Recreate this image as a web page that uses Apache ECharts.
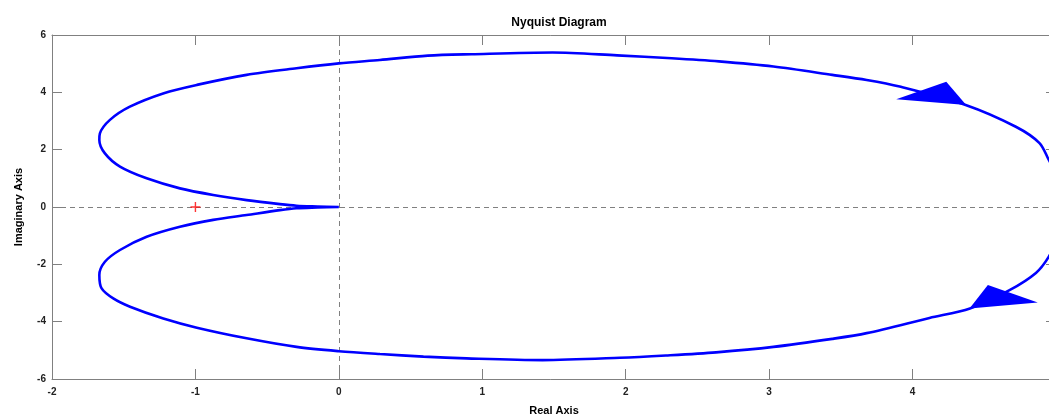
<!DOCTYPE html>
<html>
<head>
<meta charset="utf-8">
<script src="https://cdn.jsdelivr.net/npm/echarts@6/dist/echarts.min.js"></script>
<style>
	html, body { margin: 0; padding: 0; background: #fff; }
	#chart { width: 1049px; height: 414px; }
</style>
</head>
<body>
<div id="chart"></div>
<script>
// 坐标轴刻度
var xTicks = [-2, -1, 0, 1, 2, 3, 4, 5];
var yTicks = [-6, -4, -2, 0, 2, 4, 6];

// Nyquist 曲线 (实部 / 虚部)
var curveRe = [0, -0.15, -0.295, -0.411, -0.643, -0.876, -1.108, -1.34, -1.526, -1.631, -1.670, -1.666, -1.596, -1.457, -1.22, -0.99, -0.643, -0.295, 0, 0.286, 0.62, 0.925, 1.49, 1.94, 2.32, 2.65, 3.03, 3.44, 3.68, 3.91, 4.37, 4.72, 4.885, 4.95, 5.03, 5.06, 5.03, 4.95, 4.86, 4.676, 4.40, 4.118, 3.68, 3.44, 3.03, 2.63, 2.28, 1.96, 1.42, 0.89, 0.59, 0.286, 0, -0.295, -0.643, -0.99, -1.224, -1.456, -1.573, -1.654, -1.670, -1.631, -1.526, -1.34, -1.108, -0.876, -0.643, -0.411, -0.295, -0.15, 0];
var curveIm = [0, 0.02, 0.045, 0.10, 0.24, 0.42, 0.65, 1.0, 1.41, 1.87, 2.34, 2.57, 3.04, 3.50, 3.97, 4.26, 4.61, 4.84, 5.01, 5.13, 5.28, 5.33, 5.39, 5.29, 5.19, 5.08, 4.90, 4.61, 4.43, 4.20, 3.56, 2.80, 2.23, 1.64, 0.9, 0, -0.9, -1.73, -2.30, -2.90, -3.54, -3.87, -4.40, -4.60, -4.88, -5.07, -5.18, -5.26, -5.34, -5.28, -5.22, -5.13, -5.03, -4.88, -4.58, -4.21, -3.89, -3.48, -3.19, -2.84, -2.37, -1.91, -1.50, -1.04, -0.69, -0.45, -0.28, -0.11, -0.045, -0.02, 0];

// 方向箭头 (三角形顶点)
var arrowUpRe = [3.886, 4.235, 4.374];
var arrowUpIm = [3.76, 4.37, 3.56];
var arrowDownRe = [4.397, 4.525, 4.873];
var arrowDownIm = [-3.54, -2.72, -3.33];

// 临界点 (-1, 0)
var criticalPoint = [-1, 0];

var curveData = [];
for (var i = 0; i < curveRe.length; i++) {
	curveData.push([curveRe[i], curveIm[i]]);
}

function triangle(re, im) {
	var pts = [];
	for (var k = 0; k < re.length; k++) pts.push([re[k], im[k]]);
	return pts;
}
var arrows = [triangle(arrowUpRe, arrowUpIm), triangle(arrowDownRe, arrowDownIm)];

var axisGrey = "#808080";
var labelFont = {
	color: "#222",
	fontSize: 10,
	fontWeight: "bold",
	fontFamily: "Liberation Sans"
};

var myChart = echarts.init(document.getElementById("chart"));
var option = {
	animation: false,
	title: {
		text: "Nyquist Diagram",
		left: 554,
		textAlign: "center",
		top: 12,
		textStyle: { fontSize: 12, fontWeight: "bold", color: "#000", fontFamily: "Liberation Sans" }
	},
	grid: { left: 52, top: 35, right: -7, bottom: 35, containLabel: false, outerBoundsMode: "none" },
	xAxis: [{
		type: "value",
		min: xTicks[0],
		max: xTicks[xTicks.length - 1],
		interval: 1,
		position: "bottom",
		name: "Real Axis",
		nameLocation: "middle",
		nameGap: 26,
		nameTextStyle: { fontSize: 11, fontWeight: "bold", color: "#000", fontFamily: "Liberation Sans" },
		axisLine: { onZero: false, lineStyle: { color: axisGrey, width: 1 } },
		axisTick: { inside: true, length: 10, lineStyle: { color: axisGrey } },
		axisLabel: Object.assign({ margin: 8 }, labelFont),
		splitLine: { show: false }
	}, {
		type: "value",
		min: xTicks[0],
		max: xTicks[xTicks.length - 1],
		interval: 1,
		position: "top",
		axisLine: { onZero: false, lineStyle: { color: axisGrey, width: 1 } },
		axisTick: { inside: true, length: 10, lineStyle: { color: axisGrey } },
		axisLabel: { show: false },
		splitLine: { show: false }
	}],
	yAxis: [{
		type: "value",
		min: yTicks[0],
		max: yTicks[yTicks.length - 1],
		interval: 2,
		position: "left",
		name: "Imaginary Axis",
		nameLocation: "middle",
		nameRotate: 90,
		nameGap: 28,
		nameTextStyle: { fontSize: 11, fontWeight: "bold", color: "#000", fontFamily: "Liberation Sans" },
		axisLine: { show: true, onZero: false, lineStyle: { color: axisGrey, width: 1 } },
		axisTick: { show: true, inside: true, length: 10, lineStyle: { color: axisGrey } },
		axisLabel: Object.assign({ margin: 6 }, labelFont),
		splitLine: { show: false }
	}, {
		type: "value",
		min: yTicks[0],
		max: yTicks[yTicks.length - 1],
		interval: 2,
		position: "right",
		axisLine: { show: true, onZero: false, lineStyle: { color: axisGrey, width: 1 } },
		axisTick: { show: true, inside: true, length: 10, lineStyle: { color: axisGrey } },
		axisLabel: { show: false },
		splitLine: { show: false }
	}],
	series: [{
		name: "nyquist",
		type: "line",
		data: curveData,
		showSymbol: false,
		symbol: "none",
		smooth: 0.3,
		lineStyle: { color: "#0000ff", width: 2.6 },
		z: 3,
		markLine: {
			silent: true,
			symbol: "none",
			label: { show: false },
			lineStyle: { color: axisGrey, type: [5, 4], width: 1 },
			data: [{ xAxis: 0 }, { yAxis: 0 }],
			z: 1
		}
	}, {
		name: "arrows",
		type: "custom",
		data: arrows.map(function (t, idx) { return [idx]; }),
		renderItem: function (params, api) {
			var tri = arrows[params.dataIndex];
			return {
				type: "polygon",
				shape: { points: tri.map(function (p) { return api.coord(p); }) },
				style: { fill: "#0000ff" }
			};
		},
		z: 4
	}, {
		name: "critical",
		type: "scatter",
		data: [criticalPoint],
		symbol: "path://M4.3,0H5.7V4.3H10V5.7H5.7V10H4.3V5.7H0V4.3H4.3Z",
		symbolSize: 10,
		itemStyle: { color: "#ff0000" },
		z: 5
	}]
};
myChart.setOption(option);
</script>
</body>
</html>
